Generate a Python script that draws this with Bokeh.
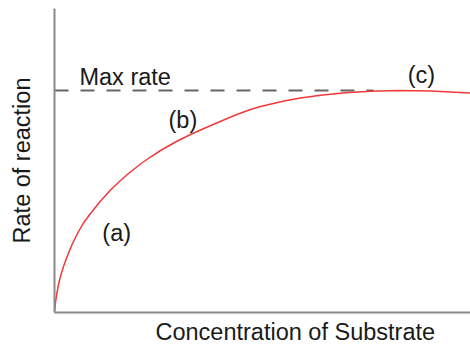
from bokeh.plotting import figure
from bokeh.models import Range1d, Label, FixedTicker, Title
from bokeh.embed import file_html
from bokeh.resources import INLINE

# Data: substrate concentration vs. reaction rate (relative units)
substrate = [0, 0.24, 0.48, 0.96, 1.44, 2.16, 3.13, 4.33, 5.53, 6.97, 8.65, 11.06, 13.46,
             15.87, 17.79, 20.67, 23.08, 25.48, 29.09, 32.69, 35.10, 38.70, 43.51, 47.12,
             49.52, 53.13, 55.53, 59.13, 63.94, 69.95, 75.96, 82.69, 90.38, 100]
rate = [0, 3.29, 5.59, 9.21, 11.84, 15.13, 18.75, 22.70, 25.99, 29.44, 32.57, 36.68, 40.30,
        43.42, 45.72, 48.85, 51.15, 53.29, 56.09, 58.55, 60.03, 62.17, 64.97, 66.78,
        67.76, 68.91, 69.64, 70.56, 71.48, 72.30, 72.80, 73.03, 72.86, 72.20]
max_rate = 73.0
max_rate_x = [0, 76.7]

x_label = "Concentration of Substrate"
y_label = "Rate of reaction"
annotations = ["Max rate", "(a)", "(b)", "(c)"]
ann_x = [6.0, 11.5, 27.4, 84.9]
ann_y = [77.6, 26.0, 63.2, 78.0]

FONT = "Liberation Sans"
FS = "23.5px"
TXT = "#1a1a1a"

p = figure(width=470, height=348, output_backend="svg", toolbar_location=None,
           x_range=Range1d(0, 100), y_range=Range1d(0, 100),
           min_border_left=54, min_border_bottom=36, min_border_top=8, min_border_right=0)

p.outline_line_color = None
p.xgrid.grid_line_color = None
p.ygrid.grid_line_color = None
for ax in (p.xaxis[0], p.yaxis[0]):
    ax.ticker = FixedTicker(ticks=[])
    ax.major_tick_line_color = None
    ax.minor_tick_line_color = None
    ax.major_label_text_font_size = "0px"
    ax.major_label_standoff = 0
    ax.axis_line_color = "#8a8a8a"
    ax.axis_line_width = 2

p.yaxis.axis_label = y_label
p.yaxis.axis_label_text_font = FONT
p.yaxis.axis_label_text_font_size = FS
p.yaxis.axis_label_text_font_style = "normal"
p.yaxis.axis_label_text_color = TXT
p.yaxis.axis_label_standoff = 20

p.add_layout(Title(text=x_label, align="left", offset=101, text_font=FONT,
                   text_font_size=FS, text_font_style="normal", text_color=TXT,
                   standoff=8), "below")

p.line(max_rate_x, [max_rate, max_rate], line_color="#666666", line_width=2, line_dash="14 12")
p.line(substrate, rate, line_color="#f03a3a", line_width=1.5)

for t, x, y in zip(annotations, ann_x, ann_y):
    p.add_layout(Label(x=x, y=y, text=t, text_font=FONT, text_font_size=FS,
                       text_color=TXT, text_baseline="alphabetic", text_align="left"))

open("out.html", "w").write(file_html(p, INLINE))
